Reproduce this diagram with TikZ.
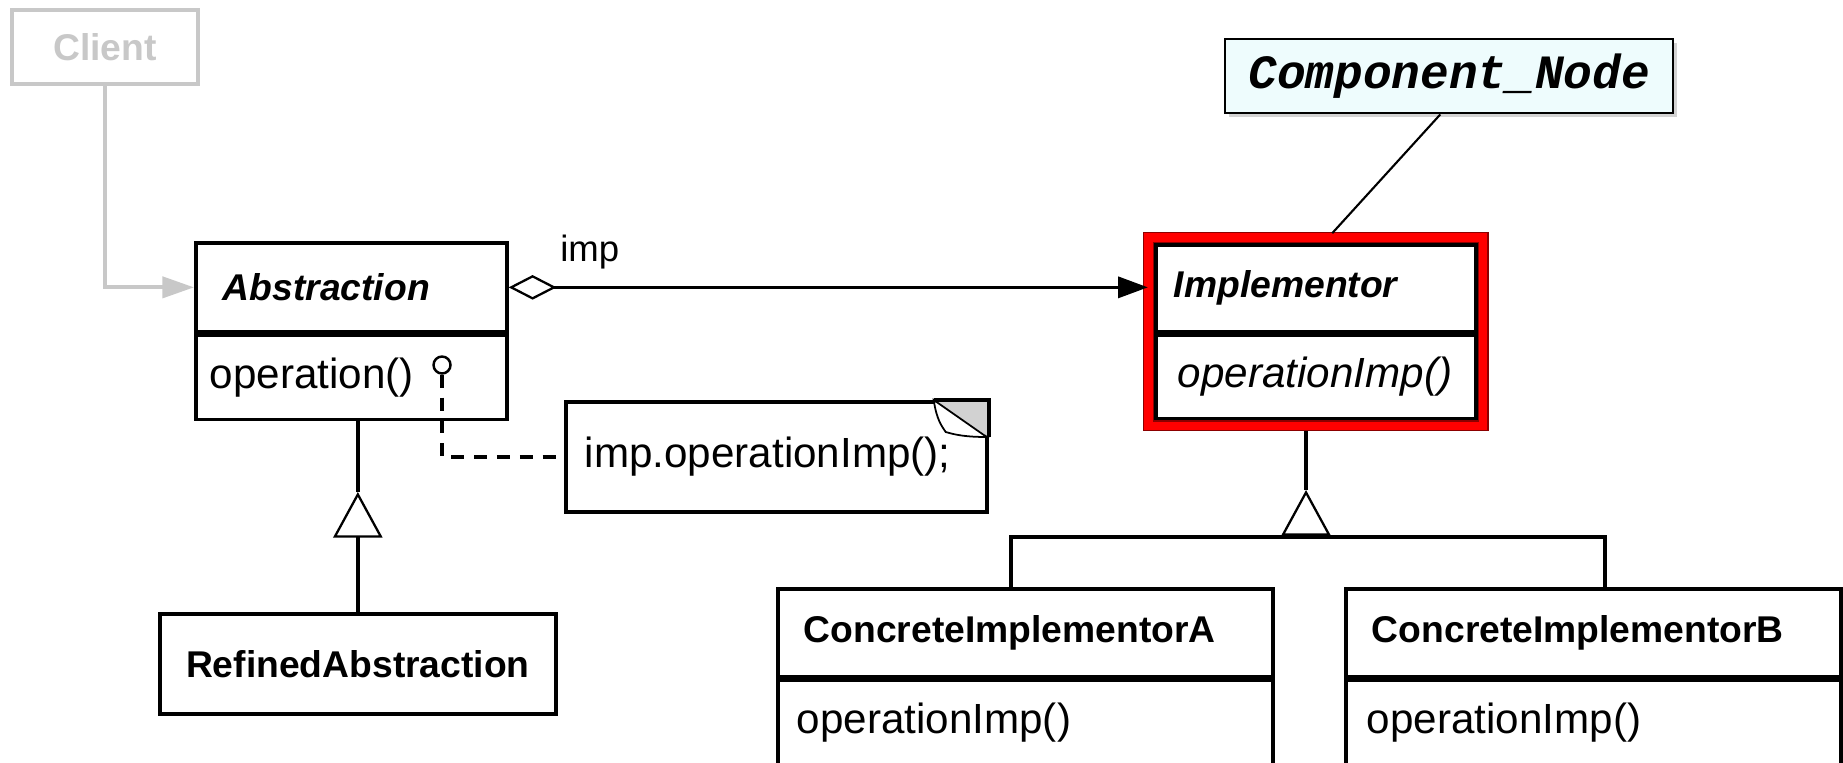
\documentclass[tikz,border=0pt]{standalone}
\usepackage{fontspec}
\setmainfont{Liberation Sans}
\setmonofont{Liberation Mono}
\usetikzlibrary{arrows.meta,calc,fit,shadows}
\definecolor{ghostgray}{RGB}{200,200,200}
\definecolor{tagfill}{RGB}{238,252,253}
\definecolor{foldgray}{RGB}{210,210,210}
\newcommand{\opfont}{\fontsize{12}{14}\selectfont}
\newcommand{\namefont}{\fontsize{10.6}{13}\selectfont\bfseries}
\newcommand{\tagfont}{\fontsize{13.6}{16}\selectfont\ttfamily\bfseries\itshape}
\begin{document}
\begin{tikzpicture}[x=1cm,y=-1cm,
  part/.style={draw=black,line width=1.05pt,rectangle,anchor=north west,inner ysep=0pt,align=left,font=\opfont},
  head/.style={part,font=\namefont},
  ghost/.style={draw=ghostgray,text=ghostgray,line width=1.1pt,rectangle,anchor=north west,minimum width=1.86cm,minimum height=0.74cm,font=\namefont},
  hook/.style={draw=black,circle,line width=0.7pt,inner sep=0pt,minimum size=0.17cm},
  hilite/.style={draw=red!55!black,double=red,double distance=2.4pt,line width=0.35pt,rectangle,inner sep=0.055cm},
  tag/.style={draw=black,fill=tagfill,line width=0.7pt,rectangle,anchor=north west,minimum width=4.48cm,minimum height=0.74cm,font=\tagfont,
    drop shadow={shadow xshift=0.04cm,shadow yshift=-0.04cm,opacity=0.35}},
  conn/.style={line width=0.95pt},
  gen/.style={conn,-{Triangle[open,length=13pt,width=14pt,line width=0.65pt]}}]
\useasboundingbox (0,0) rectangle (18.43,7.62);

% client
\node[ghost] (client) at (0.10,0.08) {Client};

% abstraction side
\node[head,text width=2.57cm,inner xsep=0.27cm,minimum height=0.89cm,font=\namefont\itshape] (abs) at (1.94,2.41) {Abstraction};
\node[part,text width=2.83cm,inner xsep=0.14cm,minimum height=0.84cm] (absop) at (abs.south west) {operation()};
\node[hook] (hk) at (4.42,3.65) {};
\node[head,minimum width=3.96cm,minimum height=1.00cm,align=center] (ref) at (1.58,6.12) {RefinedAbstraction};

% note
\node[part,text width=3.83cm,inner xsep=0.19cm,minimum height=1.10cm] (note) at (5.64,4.00) {imp.operationImp();};
\fill[foldgray] ($(note.north east)+(-0.55,0)$) -- (note.north east) -- ($(note.north east)+(0,0.37)$) -- cycle;
\draw[line width=1.05pt] ($(note.north east)+(-0.55,0)$) -- (note.north east) -- ($(note.north east)+(0,0.37)$);
\filldraw[fill=white,line width=0.5pt] ($(note.north east)+(-0.55,0)$) .. controls +(0.03,0.2) and +(-0.04,-0.06) .. ($(note.north east)+(-0.43,0.32)$) .. controls +(0.1,0.03) and +(-0.2,0) .. ($(note.north east)+(-0.02,0.37)$) -- cycle;

% implementor side
\node[head,text width=2.84cm,inner xsep=0.18cm,minimum height=0.87cm,font=\namefont\itshape] (imp) at (11.54,2.43) {Implementor};
\node[part,text width=2.76cm,inner xsep=0.22cm,minimum height=0.83cm,font=\opfont\itshape] (impop) at (imp.south west) {operationImp()};
\coordinate (tip2) at (13.06,4.90);
\draw[conn] (tip2) -- (tip2 |- impop.south);
\node[hilite,fit=(imp)(impop)] (frame) {};
\node[tag] (cn) at (12.24,0.38) {Component\_Node};

\node[head,text width=4.43cm,inner xsep=0.26cm,minimum height=0.88cm] (cia) at (7.76,5.87) {ConcreteImplementorA};
\node[part,text width=4.57cm,inner xsep=0.19cm,minimum height=0.85cm] (ciaop) at (cia.south west) {operationImp()};
\node[head,text width=4.43cm,inner xsep=0.26cm,minimum height=0.88cm] (cib) at (13.44,5.87) {ConcreteImplementorB};
\node[part,text width=4.53cm,inner xsep=0.21cm,minimum height=0.85cm] (cibop) at (cib.south west) {operationImp()};

% connectors
\draw[ghostgray,line width=1.1pt,-{Triangle[length=9pt,width=6pt]}] (client.south) |- (abs.west);
\draw[conn,{Diamond[open,length=13.6pt,width=7pt,line width=0.65pt]}-{Triangle[length=8.5pt,width=6pt]}] (abs.east) -- (abs.east -| frame.west)
  node[pos=0,anchor=base west,xshift=0.5cm,yshift=0.26cm,inner sep=0pt,font=\fontsize{10.4}{12}\selectfont] {imp};
\draw[line width=1.1pt,dash pattern=on 3.7pt off 2.8pt,shorten >=0.08cm] (hk.south) |- (note.west);
\draw[line width=0.6pt,shorten >=0.05cm] ([xshift=-0.09cm]cn.south) -- ([xshift=0.13cm]frame.north);

\coordinate (tip1) at ($(ref.north)+(0,-1.20)$);
\draw[gen] (ref.north) -- (tip1);
\draw[conn] (tip1) -- (tip1 |- absop.south);

\coordinate (bar) at (13.06,5.37);
\draw[gen] (bar) -- (tip2);
\draw[conn] ([xshift=-0.145cm]cia.north) |- (bar) -| ([xshift=0.115cm]cib.north);
\end{tikzpicture}
\end{document}
